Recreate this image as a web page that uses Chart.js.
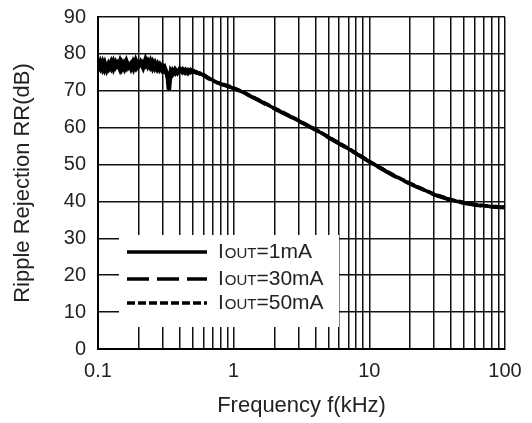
<!DOCTYPE html>
<html>
<head>
<meta charset="utf-8">
<script src="https://cdn.jsdelivr.net/npm/chart.js@4"></script>
<style>
  html, body { margin: 0; padding: 0; background: #fff; }
  #wrap { width: 532px; height: 423px; }
</style>
</head>
<body>
<div id="wrap"><canvas id="rr" width="532" height="423"></canvas></div>
<script>
// frequency points (kHz)
const freq = [0.1, 0.104, 0.108, 0.112, 0.116, 0.12, 0.125, 0.13, 0.135, 0.14, 0.145, 0.15,
  0.156, 0.162, 0.168, 0.175, 0.182, 0.19, 0.198, 0.206, 0.215, 0.224, 0.233, 0.243, 0.253,
  0.263, 0.274, 0.285, 0.297, 0.309, 0.32, 0.327, 0.333, 0.338, 0.345, 0.355, 0.37, 0.385,
  0.4, 0.42, 0.44, 0.46, 0.48, 0.5, 0.53, 0.56, 0.6, 0.65, 0.7, 0.75, 0.8, 0.9, 1,
  1.2, 1.5, 2, 2.5, 3, 4, 5, 6, 7, 8, 10, 12, 15, 20, 25, 30, 40, 50, 60, 70, 80, 100];

// ripple rejection (dB)
const rr1mA = [76.0, 77.8, 76.2, 77.6, 75.8, 77.3, 76.1, 77.9, 76.4, 77.2,
  75.9, 77.6, 76.3, 78.0, 76.5, 77.4, 76.0, 78.2, 76.6, 77.8,
  76.3, 78.4, 76.7, 78.1, 76.2, 77.5, 75.9, 77.0, 75.6, 76.4,
  74.9, 73.5, 70.3, 72.8, 75.3, 74.6, 75.8, 74.9, 75.9, 75.0,
  75.7, 74.8, 75.6, 75.0, 75.2, 74.5, 74.4, 73.4, 72.9, 72.2,
  71.9, 71.2, 70.7,
  69.4, 67.6, 65.2, 63.4, 61.9, 59.5, 57.4, 55.7, 54.3, 53.0, 50.8,
  49.1, 47.1, 44.8, 43.2, 41.9, 40.4, 39.6, 39.1, 38.8, 38.6, 38.4];
const rr30mA = [77.4, 76.1, 77.7, 75.9, 77.5, 76.2, 77.8, 76.0, 77.6, 76.3,
  77.9, 76.1, 77.5, 76.4, 78.1, 76.2, 77.9, 76.5, 78.3, 76.4,
  77.6, 76.8, 78.0, 76.5, 77.7, 76.1, 77.3, 75.8, 76.8, 75.6,
  75.7, 74.9, 73.0, 74.0, 74.6, 75.6, 74.8, 75.9, 75.0, 75.8,
  74.9, 75.6, 75.1, 75.7, 74.8, 74.9, 74.1, 73.6, 72.7, 72.4,
  71.8, 71.3, 70.6,
  69.3, 67.5, 65.1, 63.3, 61.8, 59.4, 57.3, 55.6, 54.2, 52.9, 50.7,
  49.0, 47.0, 44.7, 43.1, 41.8, 40.3, 39.5, 39.0, 38.7, 38.5, 38.3];
const rr50mA = [76.6, 76.9, 75.7, 77.1, 76.5, 76.0, 77.3, 76.7, 75.9, 77.4,
  76.6, 76.8, 75.8, 77.5, 76.9, 76.3, 77.6, 76.2, 77.4, 77.1,
  76.6, 77.7, 77.1, 76.3, 77.9, 76.8, 76.4, 76.7, 76.0, 75.2,
  75.3, 74.2, 72.4, 73.5, 75.0, 75.1, 75.4, 75.2, 75.5, 75.3,
  75.2, 75.3, 75.4, 75.3, 75.0, 74.7, 74.3, 73.3, 72.8, 72.3,
  72.0, 71.4, 70.8,
  69.5, 67.7, 65.3, 63.5, 62.0, 59.6, 57.5, 55.8, 54.4, 53.1, 50.9,
  49.2, 47.2, 44.9, 43.3, 42.0, 40.5, 39.7, 39.2, 38.9, 38.7, 38.5];

const seriesNames = ["=1mA", "=30mA", "=50mA"];
const xTicks = [0.1, 0.2, 0.3, 0.4, 0.5, 0.6, 0.7, 0.8, 0.9, 1, 2, 3, 4, 5, 6, 7, 8, 9,
  10, 20, 30, 40, 50, 60, 70, 80, 90, 100];
const xLabels = [0.1, 1, 10, 100];

const FONT = "'Liberation Sans', Arial, sans-serif";

function pts(ys) {
    return freq.map(function (f, i) { return { x: f, y: ys[i] }; });
}

// noisy low-frequency part is drawn a bit heavier, as in the scan
const heavyLow = {
    borderWidth: function (c) { return c.p0.parsed.x < 0.5 ? 4.5 : 3.5; },
};

// legend drawn inside the plot, like the original figure
const innerLegend = {
    id: "innerLegend",
    afterDraw: function (chart) {
        const ctx = chart.ctx;
        const x0 = 119, y0 = 235, w = 220, h = 92;
        ctx.save();
        ctx.fillStyle = "#fff";
        ctx.fillRect(x0, y0, w, h);
        const rows = [252, 279, 303];
        const dashes = [[], [22, 8], [8, 3]];
        chart.data.datasets.forEach(function (ds, i) {
            ctx.strokeStyle = "#000";
            ctx.lineWidth = 3.5;
            ctx.setLineDash(dashes[i]);
            ctx.beginPath();
            ctx.moveTo(127, rows[i]);
            ctx.lineTo(207, rows[i]);
            ctx.stroke();
            ctx.setLineDash([]);
            ctx.fillStyle = "#222";
            ctx.textBaseline = "middle";
            ctx.textAlign = "left";
            let tx = 218;
            ctx.font = "21px " + FONT;
            ctx.fillText("I", tx, rows[i]);
            tx += ctx.measureText("I").width + 1;
            ctx.font = "15px " + FONT;
            ctx.fillText("OUT", tx, rows[i] + 2);
            tx += ctx.measureText("OUT").width;
            ctx.font = "21px " + FONT;
            ctx.fillText(ds.label, tx, rows[i]);
        });
        ctx.restore();
    }
};

const config = {
    type: "line",
    data: {
        datasets: [
            { label: seriesNames[0], data: pts(rr1mA), borderColor: "#000", borderWidth: 3.5, segment: heavyLow },
            { label: seriesNames[1], data: pts(rr30mA), borderColor: "#000", borderWidth: 3.5, borderDash: [22, 8], segment: heavyLow },
            { label: seriesNames[2], data: pts(rr50mA), borderColor: "#000", borderWidth: 3.5, borderDash: [8, 3], segment: heavyLow },
        ],
    },
    options: {
        responsive: false,
        animation: false,
        parsing: false,
        elements: { point: { radius: 0 }, line: { tension: 0 } },
        layout: { padding: { top: 17, right: 27, left: 0, bottom: 0 } },
        scales: {
            x: {
                type: "logarithmic",
                min: 0.1,
                max: 100,
                afterBuildTicks: function (scale) {
                    scale.ticks = xTicks.map(function (v) { return { value: v }; });
                },
                afterFit: function (scale) { scale.height = 74; },
                ticks: {
                    autoSkip: false,
                    maxRotation: 0,
                    padding: 10,
                    color: "#222",
                    font: { family: FONT, size: 20 },
                    callback: function (v) {
                        return xLabels.indexOf(v) >= 0 ? String(v) : "";
                    },
                },
                grid: { color: "#111", lineWidth: 1.5, drawTicks: false },
                border: { color: "#000", width: 2 },
                title: {
                    display: true,
                    text: "Frequency f(kHz)",
                    color: "#222",
                    font: { family: FONT, size: 22 },
                    padding: { bottom: 4 },
                },
            },
            y: {
                min: 0,
                max: 90,
                afterFit: function (scale) {
                    scale.width = 98;
                    scale.paddingTop = 0;
                    scale.paddingBottom = 0;
                },
                ticks: {
                    stepSize: 10,
                    padding: 12,
                    color: "#222",
                    font: { family: FONT, size: 20 },
                },
                grid: { color: "#111", lineWidth: 1.5, drawTicks: false },
                border: { color: "#000", width: 2 },
                title: {
                    display: true,
                    text: "Ripple Rejection RR(dB)",
                    color: "#222",
                    font: { family: FONT, size: 22 },
                    padding: { top: 10 },
                },
            },
        },
        plugins: {
            legend: { display: false },
            tooltip: { enabled: false },
        },
    },
    plugins: [innerLegend],
};

new Chart(document.getElementById("rr"), config);
</script>
</body>
</html>
